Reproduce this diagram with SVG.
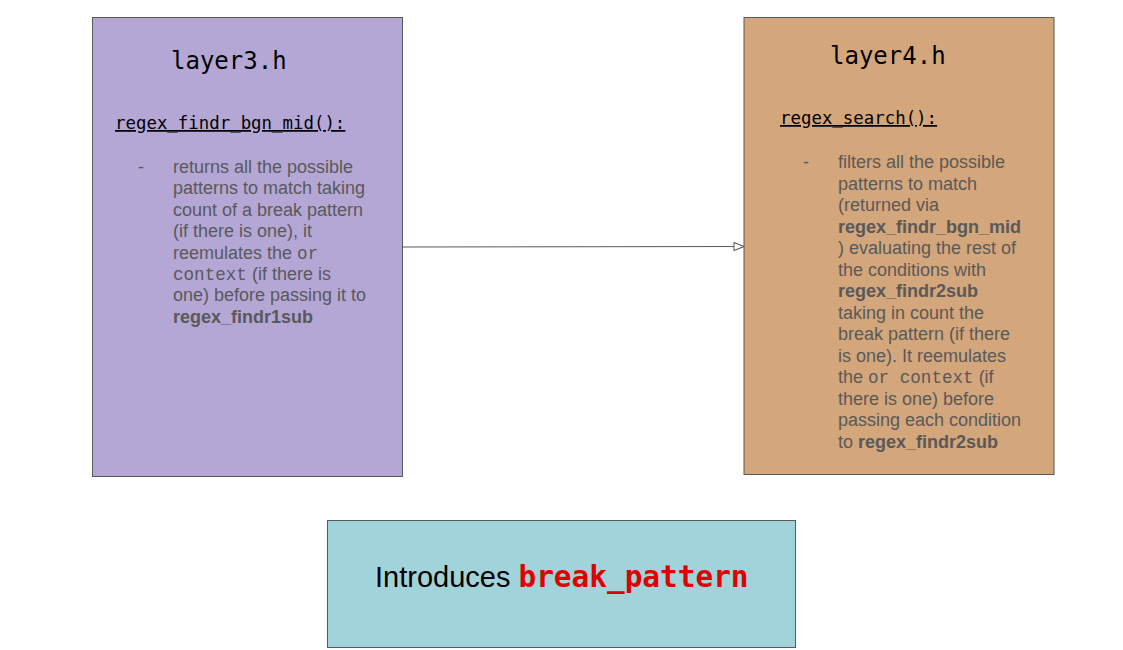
<svg xmlns="http://www.w3.org/2000/svg" width="1123" height="650" viewBox="0 0 1123 650">
<style>
.box{stroke:#595959;stroke-width:1}
.title{font-family:"DejaVu Sans Mono","Liberation Mono",monospace;font-size:24px;fill:#000}
.hdr{font-family:"DejaVu Sans Mono","Liberation Mono",monospace;font-size:17.4px;fill:#000;text-decoration:underline}
.body{font-family:"Liberation Sans",Arial,sans-serif;font-size:18px;fill:#595959}
.b{font-weight:bold}
.m{font-family:"Liberation Mono","Courier New",monospace;font-size:17.6px}
.big{font-family:"Liberation Sans",Arial,sans-serif;font-size:29px;fill:#000}
.red{font-family:"DejaVu Sans Mono","Liberation Mono",monospace;font-weight:bold;font-size:29.4px;fill:#e00000}
.conn{stroke:#595959;stroke-width:1;fill:none}
</style>
<defs>
<marker id="tri" markerWidth="12" markerHeight="10" refX="11" refY="5" orient="auto" markerUnits="userSpaceOnUse">
<path d="M1,1 L11,5 L1,9 Z" fill="#fff" stroke="#595959" stroke-width="1"/>
</marker>
</defs>
<rect width="1123" height="650" fill="#fff"/>
<g id="connectors">
<path class="conn" d="M403,247 L744,246.5" marker-end="url(#tri)"/>
</g>
<g id="layer3">
<rect class="box" x="92.5" y="17.5" width="310" height="459" fill="#b4a7d6"/>
<text class="title" x="171" y="69">layer3.h</text>
<text class="hdr" x="115" y="129">regex_findr_bgn_mid():</text>
<text class="body" x="138" y="173">-</text>
<text class="body" xml:space="preserve"><tspan x="173" y="173">returns all the possible</tspan><tspan x="173" y="194.4">patterns to match taking</tspan><tspan x="173" y="215.8">count of a break pattern</tspan><tspan x="173" y="237.2">(if there is one), it</tspan><tspan x="173" y="258.6">reemulates the <tspan class="m">or</tspan></tspan><tspan x="173" y="280"><tspan class="m">context</tspan> (if there is</tspan><tspan x="173" y="301.4">one) before passing it to</tspan><tspan x="173" y="322.8" class="b">regex_findr1sub</tspan></text>
</g>
<g id="layer4">
<rect class="box" x="744" y="17.5" width="310" height="457" fill="#d4a67b"/>
<text class="title" x="830" y="64">layer4.h</text>
<text class="hdr" x="780" y="124">regex_search():</text>
<text class="body" x="803" y="168">-</text>
<text class="body" xml:space="preserve"><tspan x="838" y="168">filters all the possible</tspan><tspan x="838" y="189.5">patterns to match</tspan><tspan x="838" y="211">(returned via</tspan><tspan x="838" y="232.5" class="b">regex_findr_bgn_mid</tspan><tspan x="838" y="254">) evaluating the rest of</tspan><tspan x="838" y="275.5">the conditions with</tspan><tspan x="838" y="297" class="b">regex_findr2sub</tspan><tspan x="838" y="318.5">taking in count the</tspan><tspan x="838" y="340">break pattern (if there</tspan><tspan x="838" y="361.5">is one). It reemulates</tspan><tspan x="838" y="383">the <tspan class="m">or context</tspan> (if</tspan><tspan x="838" y="404.5">there is one) before</tspan><tspan x="838" y="426">passing each condition</tspan><tspan x="838" y="447.5">to <tspan class="b">regex_findr2sub</tspan></tspan></text>
</g>
<g id="intro">
<rect class="box" x="327.5" y="520.5" width="468" height="127" fill="#a0d3da"/>
<text class="big" x="375" y="587" xml:space="preserve">Introduces <tspan class="red">break_pattern</tspan></text>
</g>
</svg>
